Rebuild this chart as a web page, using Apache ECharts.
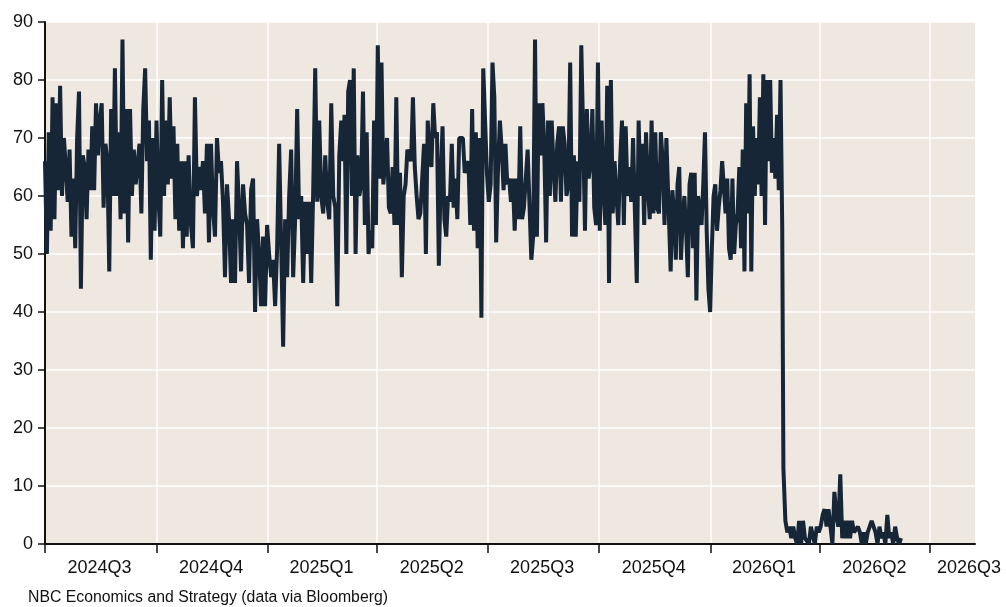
<!DOCTYPE html>
<html><head><meta charset="utf-8">
<script src="https://cdn.jsdelivr.net/npm/echarts@6/dist/echarts.min.js"></script>
<style>html,body{margin:0;padding:0;background:#fff}#c{width:1006px;height:607px}</style>
</head><body><div id="c"></div>
<script>
// ---- data ----
const seg1Start = '2024-07-01', seg1End = '2024-10-29';
const seg1Values = [66,50,71,54,77,56,76,61,79,60,70,65,59,68,53,63,51,70,78,44,
  67,65,56,68,61,72,61,76,67,73,76,58,69,66,47,75,60,82,60,71,
  56,87,57,75,52,75,60,68,62,62,69,57,75,82,66,73,49,70,54,73,
  60,53,80,60,73,62,77,63,72,56,69,54,66,51,66,53,67,56];

const seg2Start = '2024-10-31', seg2End = '2025-03-04';
const seg2Values = [51,77,60,65,61,66,57,69,52,69,58,53,70,64,66,59,46,62,56,45,
  56,45,66,58,47,62,57,55,45,61,63,40,56,50,41,53,41,55,50,46,
  49,41,51,69,52,34,56,46,60,68,46,56,75,56,60,45,59,50,59,45,
  61,82,59,73,60,57,67,59,56,76,60,58,41,67,73,66];

const seg3Start = '2025-03-05', seg3End = '2025-11-27';
const seg3Values = [74,50,78,80,60,82,50,67,60,62,78,55,71,50,54,51,73,55,86,63,
  83,62,62,70,58,57,65,55,77,55,64,46,60,62,68,68,66,77,65,60,
  56,57,57,69,50,73,67,65,76,70,71,48,63,72,56,53,60,59,69,58,
  63,56,70,70,70,64,65,66,55,75,54,71,51,70,39,82,73,64,59,62,
  83,77,52,65,73,68,61,69,62,63,59,63,54,63,56,72,56,58,58,68,
  68,49,53,87,53,76,67,76,68,52,73,60,73,65,59,69,72,59,72,69,
  60,62,83,53,67,53,66,59,86,71,54,75,63,66,75,58,55,83,54,73,
  61,55,79,45,80,57,66,60,55,66,73,55,72,60,65,59,70,57,45,73,
  60,69,55,71,62,56,73,57,71,58,57,71,66,55,70,60];

const seg4Start = '2025-11-29', seg4End = '2026-03-01';
const seg4Values = [47,61,57,49,62,65,49,56,60,54,46,62,64,51,64,42,60,57,55,62,
  71,54,44,40,51,60,62,54,58,61,66,66,57,63,51,49,63,50,55,57,
  65,51,68,47,76,57,81,47,72,60,70,62,77,60,81,55,80,66,80,64,
  70,63,74,61,80,55];

const seg5Start = '2026-03-02', seg5End = '2026-06-07';
const seg5Values = [13,4,2,3,1,3,1,0,4,0,4,1,1,0,3,3,0,3,2,3,
  5,6,3,6,6,0,9,5,3,12,1,4,1,4,1,4,2,2,3,2,
  0,2,0,2,2,4,3,2,0,3,1,2,0,5,1,2,0,3,1,0,1];

const quarterStarts = ['2024-07-01','2024-10-01','2025-01-01','2025-04-01','2025-07-01',
  '2025-10-01','2026-01-01','2026-04-01','2026-07-01'];
const quarterLabelDates = ['2024-08-15','2024-11-15','2025-02-14','2025-05-16','2025-08-15',
  '2025-11-15','2026-02-14','2026-05-16','2026-08-02'];
const xMin = '2024-07-01', xMax = '2026-08-07';
const yMin = 0, yMax = 90, yStep = 10;
const footnote = 'NBC Economics and Strategy (data via Bloomberg)';

// ---- helpers ----
function utc(s){ const p = s.split('-').map(Number); return Date.UTC(p[0], p[1]-1, p[2]); }
function spread(start, end, vals){
  const a = utc(start), b = utc(end), n = vals.length;
  return vals.map((v, i) => [a + (b - a) * (n === 1 ? 0 : i / (n - 1)), v]);
}
const seriesData = [].concat(
  spread(seg1Start, seg1End, seg1Values),
  spread(seg2Start, seg2End, seg2Values),
  spread(seg3Start, seg3End, seg3Values),
  spread(seg4Start, seg4End, seg4Values),
  spread(seg5Start, seg5End, seg5Values)
);
function quarterName(v){ const d = new Date(v);
  return d.getUTCFullYear() + 'Q' + (Math.floor(d.getUTCMonth()/3) + 1); }

const FONT = '"Liberation Sans", Arial, sans-serif';
const chart = echarts.init(document.getElementById('c'), null, {renderer: 'canvas'});
chart.setOption({
  animation: false,
  backgroundColor: '#ffffff',
  grid: {left: 45, right: 31, top: 22, bottom: 63, show: true,
    backgroundColor: '#EEE8E1', borderWidth: 0},
  xAxis: {
    type: 'value', min: utc(xMin), max: utc(xMax), scale: true,
    axisLine: {show: true, onZero: false, lineStyle: {color: '#111', width: 2}},
    axisTick: {show: true, customValues: quarterStarts.map(utc), length: 9,
      lineStyle: {color: '#111', width: 1.5}},
    axisLabel: {customValues: quarterLabelDates.map(utc), fontSize: 18, color: '#111',
      fontFamily: FONT, margin: 15, formatter: quarterName},
    splitLine: {show: true, lineStyle: {color: '#ffffff', width: 1.5}}
  },
  yAxis: {
    type: 'value', min: yMin, max: yMax, interval: yStep,
    axisLine: {show: true, lineStyle: {color: '#111', width: 2}},
    axisTick: {show: true, length: 7, lineStyle: {color: '#111', width: 1.5}},
    axisLabel: {fontSize: 18, color: '#111', fontFamily: FONT, margin: 12},
    splitLine: {show: true, lineStyle: {color: '#ffffff', width: 1.5}}
  },
  series: [{
    type: 'line', data: seriesData, showSymbol: false, symbol: 'none',
    lineStyle: {color: '#172636', width: 4, join: 'bevel'},
    z: 3
  }],
  graphic: [{
    type: 'text', left: 28, top: 590,
    style: {text: footnote, fontSize: 15.8, fill: '#111', fontFamily: FONT}
  }]
});
</script></body></html>
